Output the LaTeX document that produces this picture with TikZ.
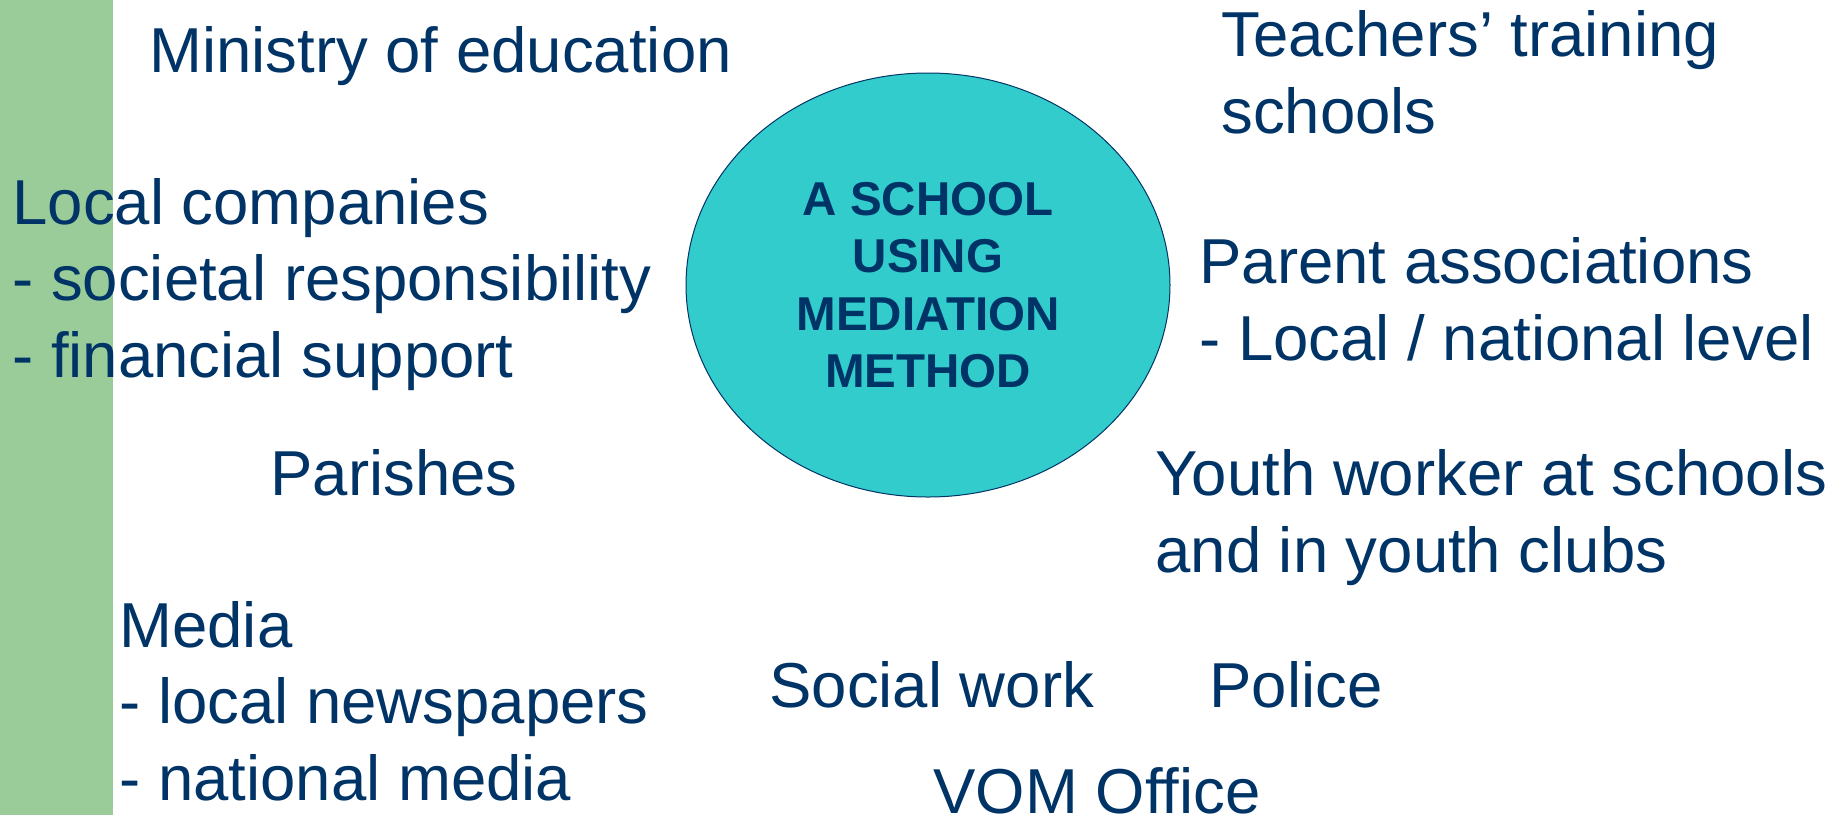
\documentclass[tikz,border=0pt]{standalone}
\usepackage{fontspec}
\setmainfont{Liberation Sans}
\usetikzlibrary{shapes.geometric}
\definecolor{navy}{RGB}{0,51,102}
\definecolor{barGreen}{RGB}{153,204,153}
\definecolor{schoolCyan}{RGB}{51,204,204}
\begin{document}
\begin{tikzpicture}[x=0.5pt,y=0.5pt,yscale=-1,
    partner/.style={anchor=base west, inner sep=0, align=left, text=navy,
        font=\fontsize{31.75}{38.25}\selectfont}]
        \useasboundingbox (0,0) rectangle (1848,815);
        \fill [barGreen] (0,0) rectangle (113,815);

        \node [ellipse, draw=navy, line width=0.5pt, fill=schoolCyan, inner sep=0,
            minimum width=242pt, minimum height=212pt, align=center, text=navy,
            font=\bfseries\fontsize{23.75}{28.7}\selectfont] (school) at (928,285)
            {A SCHOOL\\USING\\MEDIATION\\METHOD};

        % multi-line nodes sit on the baseline of their last line
        \node [partner] (ministry) at (149,72) {Ministry of education};
        \node [partner] (companies) at (12,377) {Local companies\\- societal responsibility\\- financial support};
        \node [partner] (parishes) at (270,495) {Parishes};
        \node [partner] (media) at (119,800) {Media\\- local newspapers\\- national media};
        \node [partner] (teachers) at (1221,133) {Teachers’ training\\schools};
        \node [partner] (parents) at (1199,360) {Parent associations\\- Local / national level};
        \node [partner] (youth) at (1155,572) {Youth worker at schools\\and in youth clubs};
        \node [partner] (social) at (769,707) {Social work};
        \node [partner] (police) at (1209,707) {Police};
        \node [partner] (vom) at (933,813) {VOM Office};
\end{tikzpicture}
\end{document}
